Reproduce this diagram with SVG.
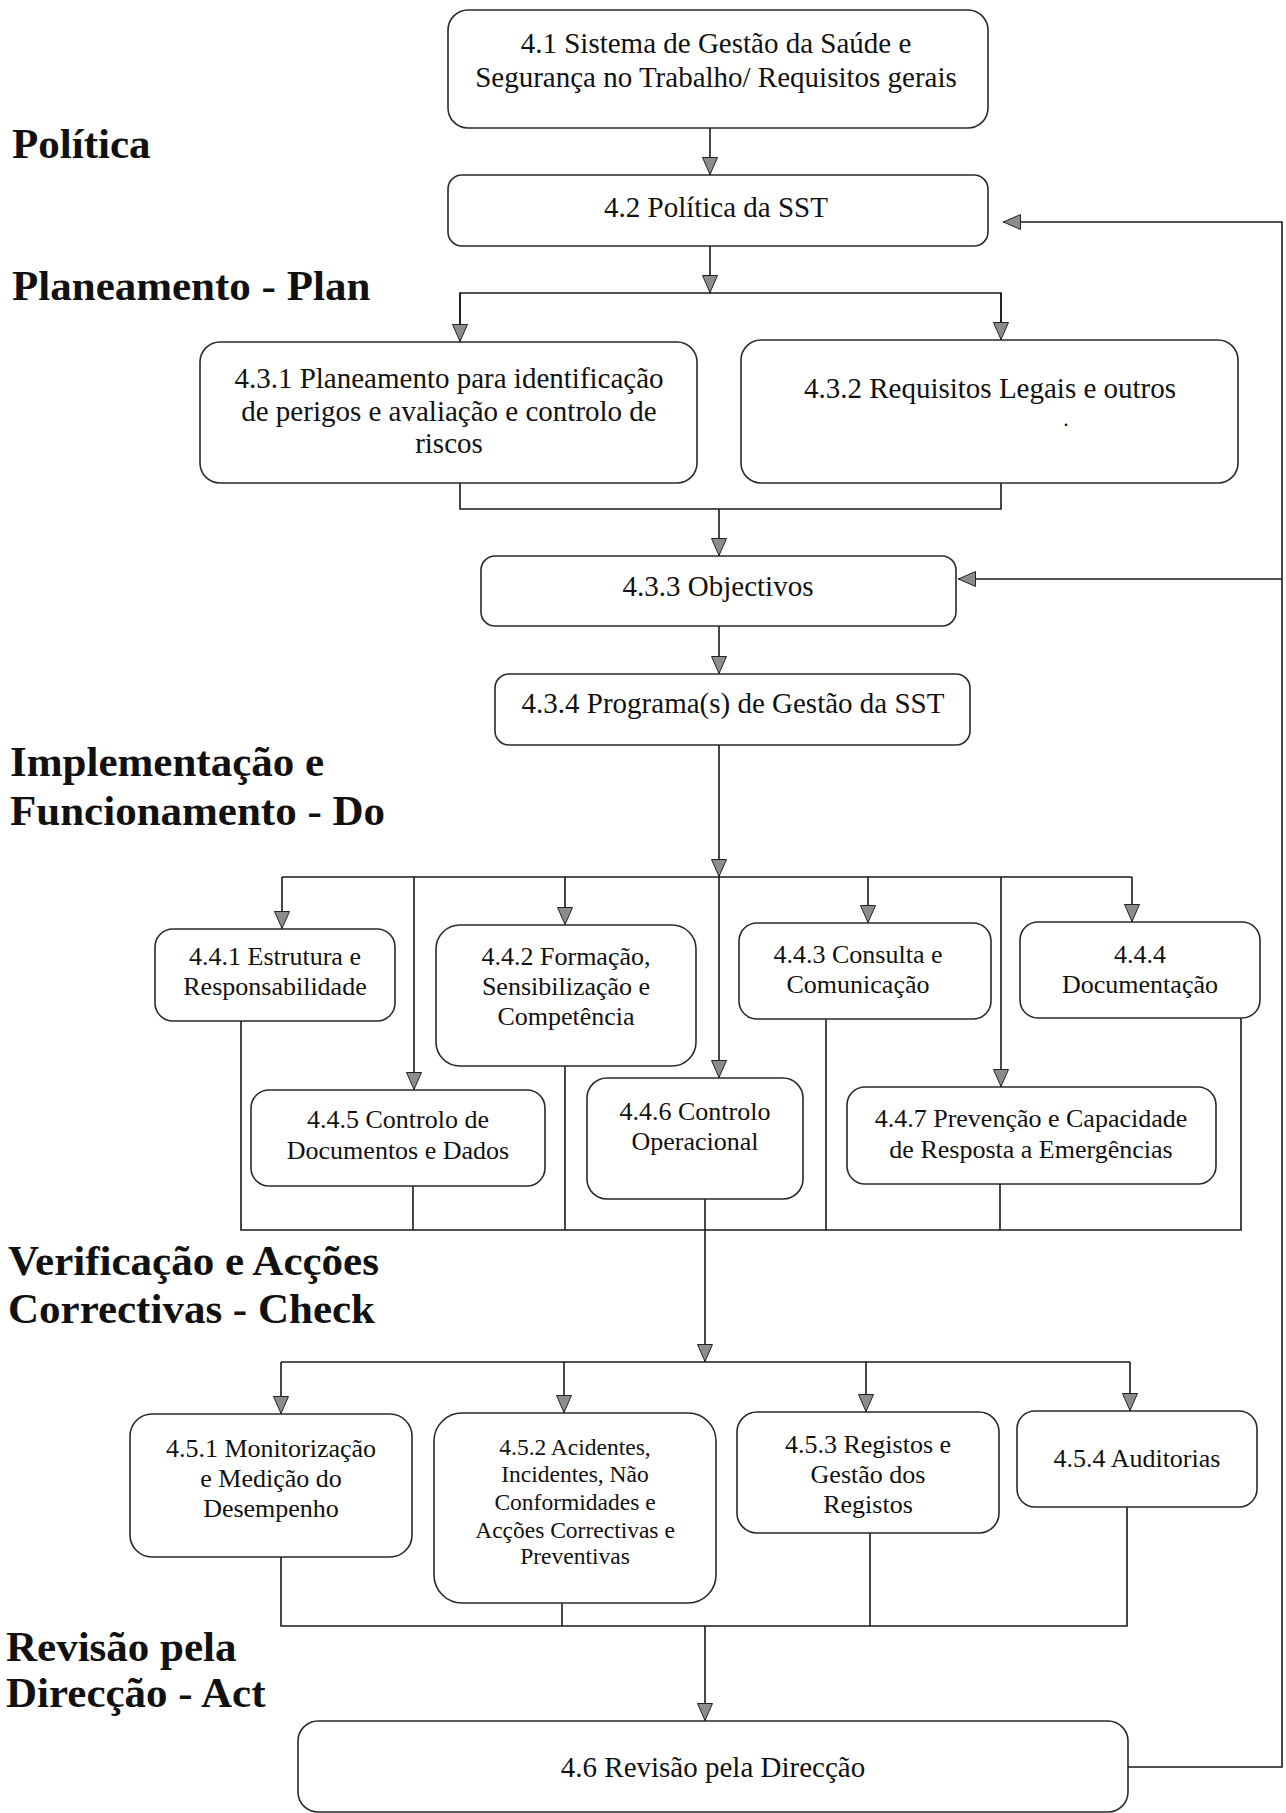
<svg xmlns="http://www.w3.org/2000/svg" width="1286" height="1813" viewBox="0 0 1286 1813">
<style>
.box{fill:#fff;stroke:#2a2a2a;stroke-width:1.6}
.t{font-family:"Liberation Serif","Times New Roman",serif;font-size:29px;fill:#111;text-anchor:middle}
.s{font-size:26px}
.xs{font-size:23.5px}
.lbl{font-family:"Liberation Serif","Times New Roman",serif;font-size:43px;font-weight:bold;fill:#111}
.c{fill:none;stroke:#1a1a1a;stroke-width:1.6}
</style>
<defs>
<marker id="ah" viewBox="0 0 18 16" refX="18" refY="8" markerWidth="18" markerHeight="16" orient="auto" markerUnits="userSpaceOnUse">
<path d="M0.5,0.5 L17.5,8 L0.5,15.5 Z" fill="#8c8c8c" stroke="#222" stroke-width="1"/>
</marker>
</defs>
<rect width="1286" height="1813" fill="#fff"/>

<g id="labels">
<text class="lbl" x="12" y="158">Política</text>
<text class="lbl" x="12" y="300">Planeamento - Plan</text>
<text class="lbl" x="10" y="776">Implementação e</text>
<text class="lbl" x="10" y="825">Funcionamento - Do</text>
<text class="lbl" x="8" y="1275">Verificação e Acções</text>
<text class="lbl" x="8" y="1323">Correctivas - Check</text>
<text class="lbl" x="6" y="1661">Revisão pela</text>
<text class="lbl" x="6" y="1707">Direcção - Act</text>
</g>

<g id="connectors">
<path class="c" d="M710,128 V175" marker-end="url(#ah)"/>
<path class="c" d="M710,246 V293" marker-end="url(#ah)"/>
<path class="c" d="M460,342 V293 H1001 V340"/>
<path class="c" d="M460,293 V342" marker-end="url(#ah)"/>
<path class="c" d="M1001,293 V340" marker-end="url(#ah)"/>
<path class="c" d="M460,483 V509 H1001 V483"/>
<path class="c" d="M719,509 V556" marker-end="url(#ah)"/>
<path class="c" d="M719,626 V674" marker-end="url(#ah)"/>
<path class="c" d="M719,745 V877" marker-end="url(#ah)"/>
<path class="c" d="M282,877 H1132"/>
<path class="c" d="M282,877 V929" marker-end="url(#ah)"/>
<path class="c" d="M565,877 V925" marker-end="url(#ah)"/>
<path class="c" d="M868,877 V923" marker-end="url(#ah)"/>
<path class="c" d="M1132,877 V922" marker-end="url(#ah)"/>
<path class="c" d="M414,877 V1090" marker-end="url(#ah)"/>
<path class="c" d="M719,877 V1078" marker-end="url(#ah)"/>
<path class="c" d="M1001,877 V1087" marker-end="url(#ah)"/>
<path class="c" d="M241,1021 V1230 H1241 V1018"/>
<path class="c" d="M413,1186 V1230"/>
<path class="c" d="M565,1066 V1230"/>
<path class="c" d="M826,1019 V1230"/>
<path class="c" d="M1000,1184 V1230"/>
<path class="c" d="M705,1199 V1362" marker-end="url(#ah)"/>
<path class="c" d="M281,1362 H1130"/>
<path class="c" d="M281,1362 V1414" marker-end="url(#ah)"/>
<path class="c" d="M564,1362 V1413" marker-end="url(#ah)"/>
<path class="c" d="M866,1362 V1412" marker-end="url(#ah)"/>
<path class="c" d="M1130,1362 V1411" marker-end="url(#ah)"/>
<path class="c" d="M281,1557 V1626 H1127 V1507"/>
<path class="c" d="M562,1603 V1626"/>
<path class="c" d="M870,1533 V1626"/>
<path class="c" d="M705,1626 V1721" marker-end="url(#ah)"/>
<path class="c" d="M1128,1767 H1282 V222 H1003" marker-end="url(#ah)"/>
<path class="c" d="M1282,579 H958" marker-end="url(#ah)"/>
</g>

<g id="n41"><rect class="box" x="448" y="10" width="540" height="118" rx="20"/>
<text class="t" x="716" y="53">4.1 Sistema de Gestão da Saúde e</text>
<text class="t" x="716" y="87">Segurança no Trabalho/ Requisitos gerais</text></g>

<g id="n42"><rect class="box" x="448" y="175" width="540" height="71" rx="14"/>
<text class="t" x="716" y="217">4.2 Política da SST</text></g>

<g id="n431"><rect class="box" x="200" y="342" width="497" height="141" rx="20"/>
<text class="t" x="449" y="388">4.3.1 Planeamento para  identificação</text>
<text class="t" x="449" y="421">de perigos e avaliação e controlo de</text>
<text class="t" x="449" y="453">riscos</text></g>

<g id="n432"><rect class="box" x="741" y="340" width="497" height="143" rx="20"/>
<text class="t" x="990" y="398">4.3.2 Requisitos Legais e outros</text>
<text class="t" x="1066" y="426" style="font-size:22px">.</text></g>

<g id="n433"><rect class="box" x="481" y="556" width="475" height="70" rx="14"/>
<text class="t" x="718" y="596">4.3.3 Objectivos</text></g>

<g id="n434"><rect class="box" x="495" y="674" width="475" height="71" rx="14"/>
<text class="t" x="733" y="713">4.3.4 Programa(s) de Gestão da SST</text></g>

<g id="n441"><rect class="box" x="155" y="929" width="240" height="92" rx="18"/>
<text class="t s" x="275" y="965">4.4.1 Estrutura e</text>
<text class="t s" x="275" y="995">Responsabilidade</text></g>

<g id="n442"><rect class="box" x="436" y="925" width="260" height="141" rx="24"/>
<text class="t s" x="566" y="965">4.4.2 Formação,</text>
<text class="t s" x="566" y="995">Sensibilização e</text>
<text class="t s" x="566" y="1025">Competência</text></g>

<g id="n443"><rect class="box" x="739" y="923" width="252" height="96" rx="18"/>
<text class="t s" x="858" y="963">4.4.3 Consulta e</text>
<text class="t s" x="858" y="993">Comunicação</text></g>

<g id="n444"><rect class="box" x="1020" y="922" width="240" height="96" rx="18"/>
<text class="t s" x="1140" y="963">4.4.4</text>
<text class="t s" x="1140" y="993">Documentação</text></g>

<g id="n445"><rect class="box" x="251" y="1090" width="294" height="96" rx="18"/>
<text class="t s" x="398" y="1128">4.4.5 Controlo de</text>
<text class="t s" x="398" y="1159">Documentos e Dados</text></g>

<g id="n446"><rect class="box" x="587" y="1078" width="216" height="121" rx="20"/>
<text class="t s" x="695" y="1120">4.4.6 Controlo</text>
<text class="t s" x="695" y="1150">Operacional</text></g>

<g id="n447"><rect class="box" x="847" y="1087" width="369" height="97" rx="18"/>
<text class="t s" x="1031" y="1127">4.4.7 Prevenção e Capacidade</text>
<text class="t s" x="1031" y="1158">de Resposta a Emergências</text></g>

<g id="n451"><rect class="box" x="130" y="1414" width="282" height="143" rx="22"/>
<text class="t s" x="271" y="1457">4.5.1 Monitorização</text>
<text class="t s" x="271" y="1487">e Medição do</text>
<text class="t s" x="271" y="1517">Desempenho</text></g>

<g id="n452"><rect class="box" x="434" y="1413" width="282" height="190" rx="28"/>
<text class="t xs" x="575" y="1455">4.5.2 Acidentes,</text>
<text class="t xs" x="575" y="1482">Incidentes, Não</text>
<text class="t xs" x="575" y="1510">Conformidades e</text>
<text class="t xs" x="575" y="1538">Acções Correctivas e</text>
<text class="t xs" x="575" y="1564">Preventivas</text></g>

<g id="n453"><rect class="box" x="737" y="1412" width="262" height="121" rx="20"/>
<text class="t s" x="868" y="1453">4.5.3 Registos e</text>
<text class="t s" x="868" y="1483">Gestão dos</text>
<text class="t s" x="868" y="1513">Registos</text></g>

<g id="n454"><rect class="box" x="1017" y="1411" width="240" height="96" rx="18"/>
<text class="t s" x="1137" y="1467">4.5.4 Auditorias</text></g>

<g id="n46"><rect class="box" x="298" y="1721" width="830" height="91" rx="20"/>
<text class="t" x="713" y="1777">4.6 Revisão pela Direcção</text></g>
</svg>
